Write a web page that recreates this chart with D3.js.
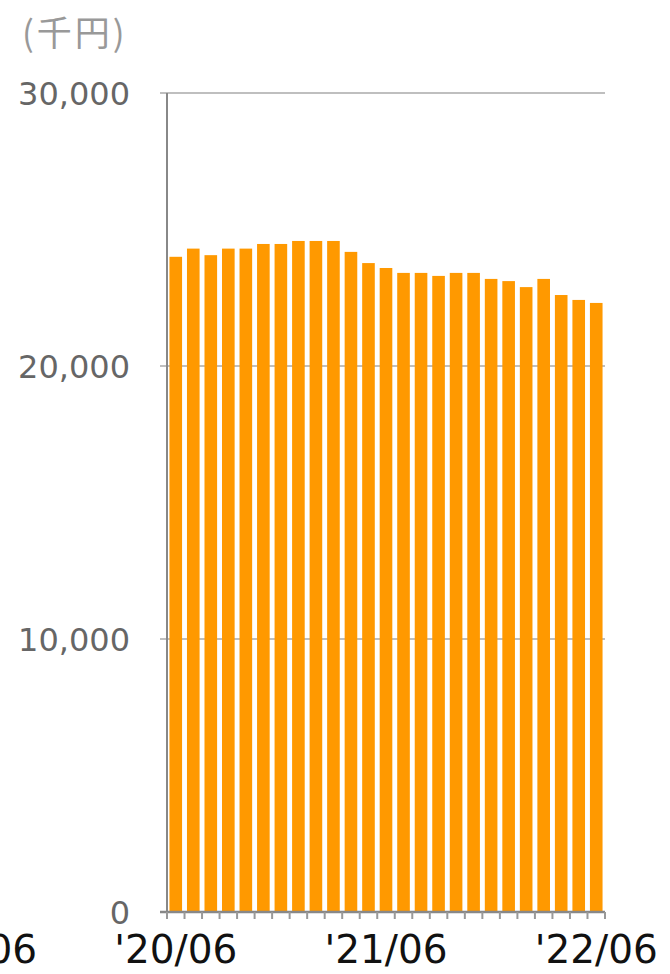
<!DOCTYPE html>
<html>
<head>
<meta charset="utf-8">
<script src="https://cdn.jsdelivr.net/npm/d3@7"></script>
<style>
    body { margin: 0; background: #fff; }
    svg text { font-family: "DejaVu Sans", "Noto Sans", sans-serif; }
    svg text.unit { font-family: "Noto Sans CJK JP", sans-serif; }
</style>
</head>
<body>
<div id="chart"></div>
<script>

// months '20/06 .. '22/06
const months = ["20/06", "20/07", "20/08", "20/09", "20/10", "20/11", "20/12",
    "21/01", "21/02", "21/03", "21/04", "21/05", "21/06", "21/07", "21/08", "21/09",
    "21/10", "21/11", "21/12", "22/01", "22/02", "22/03", "22/04", "22/05", "22/06"];

// values in thousand yen
const values = [24000, 24300, 24060, 24300, 24300, 24470, 24470, 24580, 24580, 24580,
    24180, 23770, 23590, 23410, 23410, 23300, 23410, 23410, 23190, 23110,
    22890, 23190, 22600, 22420, 22310];

const yTicks = [0, 10000, 20000, 30000];

// labelled months; "19/06" sits off the left edge of the plot
const xLabels = [{idx: -12, text: "'19/06"}, {idx: 0, text: "'20/06"},
    {idx: 12, text: "'21/06"}, {idx: 24, text: "'22/06"}];

const unitLabel = "(千円)";


class BarChart {

    constructor(parentElement) {
        this.parentElement = parentElement;
        this.initVis();
    }

    initVis() {
        let vis = this;

        vis.margin = {top: 93, left: 167};
        vis.width = 438;
        vis.height = 819;

        vis.svg = d3.select("#" + vis.parentElement).append("svg")
            .attr("width", 670)
            .attr("height", 974)
            .append("g")
            .attr("transform", "translate(" + vis.margin.left + "," + vis.margin.top + ")");

        vis.x = d3.scaleBand()
            .domain(d3.range(months.length))
            .range([0, vis.width])
            .paddingInner(0.28)
            .paddingOuter(0.14);

        vis.y = d3.scaleLinear()
            .domain([0, 30000])
            .range([vis.height, 0]);

        vis.updateVis();
    }

    updateVis() {
        let vis = this;
        let step = vis.x.step();

        // gridlines
        vis.svg.append("g")
            .selectAll("line")
            .data(yTicks.filter(d => d > 0))
            .join("line")
            .attr("x1", -7)
            .attr("x2", vis.width)
            .attr("y1", d => vis.y(d))
            .attr("y2", d => vis.y(d))
            .attr("stroke", "#aaa")
            .attr("stroke-width", 1.5);

        // y labels
        vis.svg.append("g")
            .selectAll("text")
            .data(yTicks)
            .join("text")
            .attr("x", -37)
            .attr("y", d => vis.y(d))
            .attr("dy", "0.36em")
            .attr("text-anchor", "end")
            .attr("fill", "#666")
            .attr("font-size", 32)
            .text(d => d3.format(",")(d));

        // unit
        vis.svg.append("text")
            .attr("class", "unit")
            .attr("x", -145)
            .attr("y", -47)
            .attr("fill", "#999")
            .attr("font-size", 35)
            .attr("letter-spacing", 3)
            .text(unitLabel);

        // bars
        vis.svg.append("g")
            .selectAll("rect")
            .data(values)
            .join("rect")
            .attr("x", (d, i) => vis.x(i))
            .attr("width", vis.x.bandwidth())
            .attr("y", d => vis.y(d))
            .attr("height", d => vis.height - vis.y(d))
            .attr("fill", "#ff9900");

        // left axis
        vis.svg.append("line")
            .attr("x1", 0).attr("x2", 0)
            .attr("y1", 0).attr("y2", vis.height)
            .attr("stroke", "#888")
            .attr("stroke-width", 2);

        // bottom axis with ticks at month boundaries
        vis.svg.append("line")
            .attr("x1", -7).attr("x2", vis.width)
            .attr("y1", vis.height).attr("y2", vis.height)
            .attr("stroke", "#888")
            .attr("stroke-width", 2.5);

        vis.svg.append("g")
            .selectAll("line")
            .data(d3.range(months.length + 1))
            .join("line")
            .attr("x1", d => d * step)
            .attr("x2", d => d * step)
            .attr("y1", vis.height)
            .attr("y2", vis.height + 7)
            .attr("stroke", "#999")
            .attr("stroke-width", 2);

        // x labels (the off-plot one is nudged right a bit, as in the original)
        vis.svg.append("g")
            .selectAll("text")
            .data(xLabels)
            .join("text")
            .attr("x", d => (d.idx + 0.5) * step + (d.idx < 0 ? 10 : 0))
            .attr("y", vis.height + 51)
            .attr("text-anchor", "middle")
            .attr("fill", "#111")
            .attr("font-size", 39)
            .text(d => d.text);
    }
}

new BarChart("chart");

</script>
</body>
</html>
